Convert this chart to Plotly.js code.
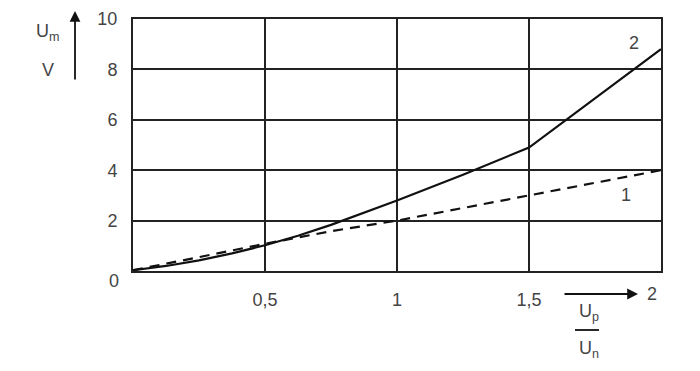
<!DOCTYPE html>
<html><head><meta charset="utf-8">
<script src="https://cdn.plot.ly/plotly-3.0.1.min.js"></script>
<style>html,body{margin:0;padding:0;background:#fff}#c{width:700px;height:371px}</style>
</head><body><div id="c"></div>
<script>
// Curve 1 (dashed) and curve 2 (solid): Um [V] vs Up/Un
const x1 = [0, 0.125, 0.25, 0.5, 0.75, 1.0, 1.25, 1.5, 1.75, 2.0];
const y1 = [0.03, 0.28, 0.55, 1.08, 1.58, 2.0, 2.5, 3.0, 3.5, 4.0];
const x2 = [0, 0.125, 0.25, 0.375, 0.5, 0.625, 0.75, 0.875, 1.0, 1.25, 1.5, 2.0];
const y2 = [0.03, 0.2, 0.42, 0.7, 1.02, 1.4, 1.83, 2.3, 2.8, 3.82, 4.9, 8.8];
const xTickVals = [0.5, 1, 1.5];
const xTickText = ['0,5', '1', '1,5'];
const yTickVals = [2, 4, 6, 8, 10];
const yTickText = ['2', '4', '6', '8', '10'];
const curveNames = ['1', '2'];

const txt = '#444';
const font = {family: 'Liberation Sans, Arial, sans-serif', size: 18, color: txt};
const L = 133, B = 271, W = 528, H = 252;
const px = v => (v - L) / W;
const py = v => (B - v) / H;
const ann = (x, y, t) => ({xref: 'paper', yref: 'paper', x: px(x), y: py(y), text: t, showarrow: false, font: font, xanchor: 'center', yanchor: 'middle'});

const traces = [
  {x: x1, y: y1, mode: 'lines', line: {color: '#111', width: 2.2, dash: '10px,7px'}, hoverinfo: 'skip'},
  {x: x2, y: y2, mode: 'lines', line: {color: '#111', width: 2.2}, hoverinfo: 'skip'}
];

const layout = {
  width: 700, height: 371,
  margin: {l: 133, r: 39, t: 19, b: 100},
  paper_bgcolor: '#fff', plot_bgcolor: '#fff',
  showlegend: false,
  font: font,
  xaxis: {range: [0, 2], tickvals: xTickVals, ticktext: xTickText, showgrid: true, gridcolor: '#222', gridwidth: 2,
          zeroline: false, showline: true, linecolor: '#222', linewidth: 2, mirror: true, ticks: '', ticklabelstandoff: 11, tickfont: font},
  yaxis: {range: [0, 10], tickvals: yTickVals, ticktext: yTickText, showgrid: true, gridcolor: '#222', gridwidth: 2,
          zeroline: false, showline: true, linecolor: '#222', linewidth: 2, mirror: true, ticks: '', ticklabelstandoff: 10, tickfont: font},
  annotations: [
    ann(114, 281, '0'),
    ann(652, 294, '2'),
    {x: 1.898, y: 9.05, text: curveNames[1], showarrow: false, font: font},
    {x: 1.867, y: 3.0, text: curveNames[0], showarrow: false, font: font},
    {xref: 'paper', yref: 'paper', x: px(638), y: py(294), ax: -75, ay: 0, text: '', showarrow: true,
     arrowhead: 2, arrowsize: 1.2, arrowwidth: 1.8, arrowcolor: '#111'},
    {xref: 'paper', yref: 'paper', x: px(75), y: py(11), ax: 0, ay: 70, text: '', showarrow: true,
     arrowhead: 2, arrowsize: 1.2, arrowwidth: 1.8, arrowcolor: '#111'},
    ann(48, 32, 'U<sub>m</sub>'),
    ann(48, 70, 'V'),
    ann(589, 312, 'U<sub>p</sub>'),
    ann(589, 349, 'U<sub>n</sub>')
  ],
  shapes: [
    {type: 'line', xref: 'paper', yref: 'paper', x0: px(575), x1: px(599), y0: py(330), y1: py(330),
     line: {color: '#111', width: 1.8}}
  ]
};
Plotly.newPlot('c', traces, layout, {displayModeBar: false, staticPlot: true});
</script></body></html>
